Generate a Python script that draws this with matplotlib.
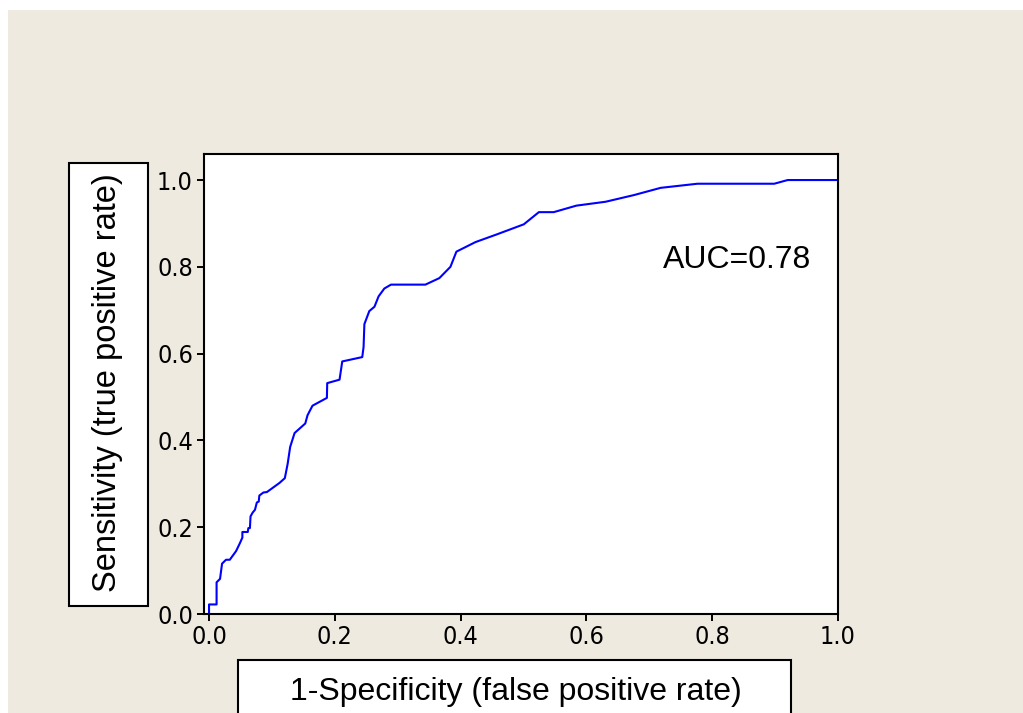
import matplotlib
matplotlib.use("Agg")
import matplotlib.pyplot as plt
from matplotlib.patches import Rectangle

# ROC curve
FPR = [0.0, 0.0, 0.012, 0.012, 0.0175, 0.0207, 0.027, 0.033, 0.043, 0.049,
       0.053, 0.053, 0.0616, 0.0625, 0.065, 0.066, 0.0695, 0.073, 0.076, 0.079,
       0.080, 0.0865, 0.092, 0.112, 0.1205, 0.125, 0.129, 0.136, 0.153, 0.1566,
       0.1645, 0.1874, 0.1879, 0.2075, 0.2118, 0.2436, 0.2457, 0.247, 0.2548,
       0.263, 0.2696, 0.2787, 0.2893, 0.344, 0.3662, 0.3838, 0.3933, 0.4236,
       0.458, 0.5005, 0.5244, 0.548, 0.584, 0.6306, 0.6757, 0.718, 0.7766,
       0.8986, 0.92, 1.0]
TPR = [0.0, 0.022, 0.022, 0.073, 0.081, 0.116, 0.125, 0.125, 0.145, 0.163,
       0.176, 0.189, 0.189, 0.198, 0.198, 0.225, 0.234, 0.240, 0.257, 0.259,
       0.273, 0.280, 0.281, 0.302, 0.313, 0.346, 0.385, 0.417, 0.439, 0.458,
       0.480, 0.498, 0.532, 0.540, 0.582, 0.592, 0.615, 0.668, 0.698,
       0.708, 0.732, 0.750, 0.759, 0.759, 0.774, 0.800, 0.835, 0.857,
       0.875, 0.898, 0.926, 0.926, 0.941, 0.950, 0.9654, 0.982, 0.9915,
       0.9915, 1.0, 1.0]
TICKS = [0.0, 0.2, 0.4, 0.6, 0.8, 1.0]
AUC_TEXT = "AUC=0.78"

BG = "#EEEAE0"
LABEL_FONT = ["Liberation Sans", "DejaVu Sans"]
TICK_FONT = ["DejaVu Sans"]

fig = plt.figure(figsize=(10.23, 7.13), dpi=100, facecolor="white")
W, H = 1023.0, 713.0

# beige panel with thin white margin top/left
fig.patches.append(Rectangle((8 / W, 0), 1 - 8 / W, 1 - 10 / H,
                             transform=fig.transFigure, facecolor=BG,
                             edgecolor="none", zorder=-5))

ax = fig.add_axes([204 / W, 1 - 614 / H, 634 / W, 460 / H])
ax.set_zorder(2)
ax.set_facecolor("white")
ax.plot(FPR, TPR, color="#0000FF", lw=1.5)

ax.set_xlim(-0.008, 1.0)
ax.set_ylim(0.0, 1.06)
ax.set_xticks(TICKS)
ax.set_yticks(TICKS)
ax.set_xticklabels([f"{t:.1f}" for t in TICKS])
ax.set_yticklabels([f"{t:.1f}" for t in TICKS])
ax.tick_params(direction="out", length=5, width=1.4, colors="black",
               labelsize=18, pad=3)
for lbl in ax.get_xticklabels() + ax.get_yticklabels():
    lbl.set_family(TICK_FONT)
    lbl.set_fontstretch("condensed")
for sp in ax.spines.values():
    sp.set_linewidth(1.5)
    sp.set_color("black")

ax.text(0.721, 0.815, AUC_TEXT, fontsize=23, family=LABEL_FONT,
        va="center", ha="left", transform=ax.transData)

# boxed axis titles
fig.patches.append(Rectangle((69 / W, 1 - 606 / H), 79 / W, 443 / H,
                             transform=fig.transFigure, facecolor="white",
                             edgecolor="black", lw=1.5, zorder=1))
fig.text(108 / W, 1 - 383 / H, "Sensitivity (true positive rate)",
         rotation=90, fontsize=23.5, family=LABEL_FONT,
         ha="center", va="center", zorder=2)

fig.patches.append(Rectangle((238 / W, -0.05), 553 / W, 0.05 + 53 / H,
                             transform=fig.transFigure, facecolor="white",
                             edgecolor="black", lw=1.5, zorder=1))
fig.text(516 / W, 1 - 692 / H, "1-Specificity (false positive rate)",
         fontsize=23, family=LABEL_FONT, ha="center", va="center", zorder=2)

fig.savefig("out.png", dpi=100, facecolor="white")
